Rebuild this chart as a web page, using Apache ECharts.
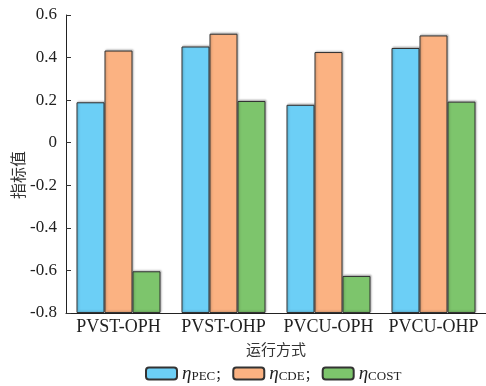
<!DOCTYPE html>
<html><head><meta charset="utf-8">
<script src="https://cdn.jsdelivr.net/npm/echarts@6/dist/echarts.min.js"></script>
<style>html,body{margin:0;padding:0;background:#fff}#c{width:486px;height:386px}</style>
</head><body><div id="c"></div>
<script>
const categories = ['PVST-OPH','PVST-OHP','PVCU-OPH','PVCU-OHP'];
const seriesNames = ['PEC','CDE','COST'];
const pecValues = [0.19, 0.452, 0.178, 0.445];
const cdeValues = [0.433, 0.512, 0.426, 0.504];
const costValues = [-0.604, 0.196, -0.626, 0.193];
const yTicks = {min: -0.8, max: 0.6, interval: 0.2};
const colors = ['#6CCFF6', '#FBB282', '#7DC56C'];

// Bars in the reference rise from the axis bottom (-0.8), so values are
// plotted relative to the axis minimum and tick labels are shifted back.
const base = yTicks.min;
const rel = arr => arr.map(v => +(v - base).toFixed(4));

const serif = 'Liberation Serif, Times New Roman, serif';
const cjk = 'Noto Sans CJK SC, sans-serif';
const chart = echarts.init(document.getElementById('c'), null, {renderer: 'canvas'});
const mk = (name, data, i) => ({
  name, type: 'bar', data: rel(data), barWidth: 28, barGap: '0%',
  itemStyle: {color: colors[i], borderColor: '#333', borderWidth: 1,
    shadowColor: 'rgba(0,0,0,0.25)', shadowBlur: 2, shadowOffsetX: 1, shadowOffsetY: -1},
  emphasis: {disabled: true}
});
chart.setOption({
  animation: false,
  grid: {left: 66, right: 0, top: 15, bottom: 73, containLabel: false, outerBoundsMode: 'none'},
  legend: {
    top: 364, left: 145, padding: 0, itemWidth: 31, itemHeight: 12, itemGap: 4,
    data: seriesNames,
    formatter: n => '{eta|η}{sub|' + n + '}' + (n === 'COST' ? '' : '{sep|；}'),
    textStyle: {
      rich: {
        eta: {fontFamily: serif, fontStyle: 'italic', fontSize: 19, color: '#222'},
        sub: {fontFamily: serif, fontSize: 13, color: '#222', padding: [6, 0, 0, 0]},
        sep: {fontFamily: cjk, fontSize: 13, color: '#222', padding: [2, 0, 0, 0]}
      }
    }
  },
  xAxis: {
    type: 'category', data: categories,
    name: '运行方式', nameLocation: 'middle', nameGap: 29, nameMoveOverlap: false,
    nameTextStyle: {fontFamily: cjk, fontSize: 15, color: '#333'},
    axisLine: {lineStyle: {color: '#222', width: 1}},
    axisTick: {inside: true, length: 4, lineStyle: {color: '#333'}},
    axisLabel: {fontFamily: serif, fontSize: 18, color: '#222', margin: 5, interval: 0, hideOverlap: false}
  },
  yAxis: {
    type: 'value', min: 0, max: yTicks.max - base, interval: yTicks.interval,
    name: '指标值', nameLocation: 'middle', nameGap: 40, nameMoveOverlap: false,
    nameTextStyle: {fontFamily: cjk, fontSize: 16, color: '#333', padding: [0, 0, 0, -22]},
    axisLine: {show: true, lineStyle: {color: '#222', width: 1}},
    axisTick: {show: true, inside: true, length: 5, lineStyle: {color: '#333'}},
    splitLine: {show: false},
    axisLabel: {fontFamily: serif, fontSize: 17, color: '#222', margin: 9,
      formatter: v => { const r = Math.round((v + base) * 10) / 10; return r === 0 ? '0' : String(r); }}
  },
  series: [mk('PEC', pecValues, 0), mk('CDE', cdeValues, 1), mk('COST', costValues, 2)]
});
</script></body></html>
